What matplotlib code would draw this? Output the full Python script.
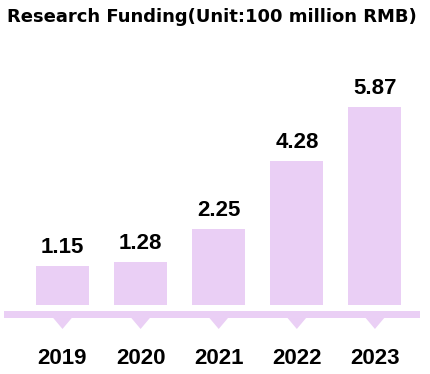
import matplotlib
matplotlib.use("Agg")
import matplotlib.pyplot as plt

# Chart data
years = ["2019", "2020", "2021", "2022", "2023"]
funding = [1.15, 1.28, 2.25, 4.28, 5.87]
title = "Research Funding(Unit:100 million RMB)"

BAR_COLOR = "#EACFF5"
FONT = "Liberation Sans"

fig = plt.figure(figsize=(4.3, 3.74), dpi=100)
ax = fig.add_axes([0, 0, 1, 1])
ax.set_xlim(-0.8, 4.705)
ax.set_ylim(-2.063, 9.068)
ax.axis("off")

xs = list(range(len(years)))

# bars
ax.bar(xs, funding, width=0.68, color=BAR_COLOR, zorder=2)

# value labels above bars
for x, v in zip(xs, funding):
    ax.annotate(f"{v:.2f}", (x, v), xytext=(0, 9.4), textcoords="offset points",
                ha="center", va="baseline", fontsize=16, fontweight="bold",
                family=FONT, color="black")

# base band with small pointers under each bar
ax.fill_between([-0.749, 4.578], -0.387, -0.1875, color=BAR_COLOR, lw=0)
for x in xs:
    ax.fill([x - 0.122, x + 0.122, x], [-0.387, -0.387, -0.723],
            color=BAR_COLOR, lw=0)

# year labels
for x, y in zip(xs, years):
    ax.text(x, -1.587, y, ha="center", va="center", fontsize=16,
            fontweight="bold", family=FONT, color="black")

# title in a wider face, closer to the reference
fig.text(7 / 430, 1 - 8 / 374, title, ha="left", va="top", fontsize=12.95,
         fontweight="bold", family="DejaVu Sans", color="black")

fig.savefig("out.png", dpi=100, facecolor="white")
